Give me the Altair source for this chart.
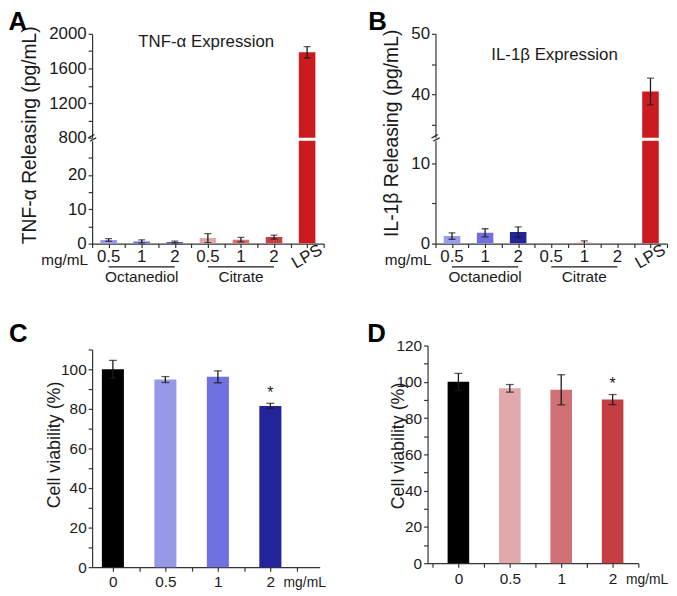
import altair as alt
import pandas as pd

FONT = "Liberation Sans"
INK = "#1a1a1a"
AXIS = "#333333"

# ---------------- Panels A and B: cytokine release ----------------
cat_keys = ["Oct 0.5", "Oct 1", "Oct 2", "Cit 0.5", "Cit 1", "Cit 2", "LPS"]
cat_labels = ["0.5", "1", "2", "0.5", "1", "2", "LPS"]
group_names = ["Octanediol", "Citrate"]
group_members = [[0, 1, 2], [3, 4, 5]]

tnf_mean = [1.05, 0.6, 0.4, 1.6, 1.15, 1.9, 1787]
tnf_err = [0.4, 0.5, 0.3, 1.3, 0.65, 0.6, 66]
il1b_mean = [0.94, 1.35, 1.43, 0.0, 0.1, 0.0, 40.45]
il1b_err = [0.4, 0.5, 0.65, 0.0, 0.25, 0.0, 2.2]

tnf_title = "TNF-α Expression"
il1b_title = "IL-1β Expression"
tnf_ytitle = "TNF-α Releasing (pg/mL)"
il1b_ytitle = "IL-1β Releasing (pg/mL)"
unit_label = "mg/mL"

# ---------------- Panels C and D: cell viability ----------------
dose_labels = ["0", "0.5", "1", "2"]
oct_via_mean = [100, 94.8, 96.2, 81.5]
oct_via_err = [4.5, 1.5, 3.0, 1.3]
cit_via_mean = [100, 96.4, 95.6, 90.2]
cit_via_err = [4.7, 2.1, 8.3, 2.8]
star_dose_index = [3]
oct_star_y = [88]
cit_star_y = [98.5]
via_ytitle = "Cell viability (%)"

# ---------------- styles ----------------
ab_colors = ["#9a9aee", "#6f6fe0", "#23239a", "#e2a9ac", "#d57377", "#c63f45", "#cc1b20"]
c_colors = ["#000000", "#9898e8", "#7070e0", "#23239a"]
d_colors = ["#000000", "#e2a9ac", "#d07176", "#c43f44"]

N = len(cat_keys)
cat_pos = [i + 0.5 for i in range(N)]
XAB = alt.Scale(domain=[0, N], nice=False, zero=False)
W_AB = 234


def cond(test, a, b):
    return alt.condition(test, alt.value(a), alt.value(b))


def letter(txt, dx, off):
    return alt.TitleParams(txt, anchor="start", frame="bounds", fontSize=26, fontWeight="bold",
                           font=FONT, color="#000000", dx=dx, offset=off, baseline="alphabetic")


def yaxis(values, step, size, title=None, tx=None, ty=None, tsize=19.5):
    kw = dict(values=values, format="d", tickCount=60,
              labelExpr=f"datum.value % {step} == 0 ? datum.label : ''",
              tickSize=4, labelFontSize=size, labelOverlap=False, labelPadding=2, grid=False)
    if title:
        kw.update(title=title, titleX=tx, titleY=ty, titleAngle=270, titleAlign="center",
                  titleBaseline="middle", titleFontSize=tsize, titleFontWeight="normal")
    else:
        kw["title"] = None
    return alt.Axis(**kw)


def ab_df(mean, err):
    df = pd.DataFrame({"key": cat_keys, "mean": mean, "err": err, "pos": cat_pos,
                       "col": ab_colors})
    df["xa"] = df["pos"] - 0.25
    df["xb"] = df["pos"] + 0.25
    df["lo"] = df["mean"] - df["err"]
    df["hi"] = df["mean"] + df["err"]
    return df


def note(text, x, y, **mk):
    return alt.Chart(pd.DataFrame({"t": [text]})).mark_text(font=FONT, color=INK, **mk).encode(
        x=alt.XDatum(x), y=alt.YDatum(y), text="t:N")


def ab_segment(df, ydom, height, yax, xax, extras=()):
    ys = alt.Scale(domain=ydom, nice=False, zero=False)
    base = alt.Chart(df)
    bars = base.mark_bar(clip=True).encode(
        x=alt.X("xa:Q", scale=XAB, axis=xax), x2="xb",
        y=alt.Y("mean:Q", scale=ys, axis=yax), y2=alt.Y2Datum(0),
        color=alt.Color("col:N", scale=None))
    eb = base.transform_filter("datum.err > 0")
    stem = eb.mark_rule(clip=True, color=INK, strokeWidth=1.3).encode(
        x="pos:Q", y="lo:Q", y2="hi")
    caps = [eb.mark_tick(clip=True, color=INK, orient="horizontal", size=7, thickness=1.3).encode(
        x="pos:Q", y=f"{f}:Q") for f in ("lo", "hi")]
    return alt.layer(bars, stem, *caps, *extras).properties(width=W_AB, height=height)


def ab_labels():
    ys = alt.Scale(domain=[0, 3.05], reverse=True)
    lab_df = pd.DataFrame({"lab": cat_labels, "pos": cat_pos})
    g_df = pd.DataFrame({"name": group_names,
                         "start": [cat_pos[m[0]] for m in group_members],
                         "end": [cat_pos[m[-1]] for m in group_members]})
    g_df["mid"] = (g_df["start"] + g_df["end"]) / 2
    labels = alt.Chart(lab_df).mark_text(font=FONT, fontSize=17, baseline="middle", color=INK).encode(
        x=alt.X("pos:Q", scale=XAB, axis=None), y=alt.YDatum(1, scale=ys, axis=None),
        text="lab:N", angle=cond("datum.lab == 'LPS'", 330, 0))
    unit = alt.Chart(pd.DataFrame({"t": [unit_label]})).mark_text(
        font=FONT, fontSize=15.5, align="right", baseline="middle", dx=-4, dy=3, color=INK).encode(
        x=alt.XDatum(0, axis=None), y=alt.YDatum(1, axis=None), text="t:N")
    lines = alt.Chart(g_df).mark_rule(color=INK, strokeWidth=1.2).encode(
        x=alt.X("start:Q", axis=None), x2="end", y=alt.YDatum(2, axis=None))
    names = alt.Chart(g_df).mark_text(font=FONT, fontSize=15.5, baseline="middle", color=INK).encode(
        x=alt.X("mid:Q", axis=None), y=alt.YDatum(3, axis=None), text="name:N")
    return alt.layer(labels, unit, lines, names).properties(width=W_AB, height=36)


def brk(y):
    return note("=", 0, y, fontSize=15, angle=330, baseline="middle")


x_ab_axis = alt.Axis(values=[i * 0.5 for i in range(2 * N + 1)], labels=False, title=None,
                     tickSize=4, tickCount=60, grid=False)

dfA = ab_df(tnf_mean, tnf_err)
A_up = ab_segment(dfA, [800, 2000], 105,
                  yaxis(list(range(800, 2001, 200)), 400, 17, tnf_ytitle, -63, 102), None,
                  extras=[note(tnf_title, 3.45, 1900, fontSize=17, baseline="middle"), brk(800)]
                  ).properties(title=letter("A", -11.5, -31))
A_low = ab_segment(dfA, [0, 30], 104, yaxis([0, 5, 10, 15, 20, 25], 10, 17), x_ab_axis)
A = alt.vconcat(A_up, A_low, ab_labels(), spacing=3, bounds="flush")

dfB = ab_df(il1b_mean, il1b_err)
B_up = ab_segment(dfB, [32.8, 50], 105,
                  yaxis([35, 40, 45, 50], 10, 17, il1b_ytitle, -44, 100), None,
                  extras=[note(il1b_title, 3.6, 46.5, fontSize=17, baseline="middle"), brk(32.8)]
                  ).properties(title=letter("B", -14, -31))
B_low = ab_segment(dfB, [0, 12.8], 104, yaxis([0, 5, 10], 10, 17), x_ab_axis)
B = alt.vconcat(B_up, B_low, ab_labels(), spacing=3, bounds="flush")


def via_panel(mean, err, colors, xdom, width, ymax, star_y, tx, ty, unit_x):
    n = len(dose_labels)
    df = pd.DataFrame({"dose": dose_labels, "idx": list(range(n)), "mean": mean, "err": err,
                       "col": colors})
    df["xa"] = df["idx"] - 0.21
    df["xb"] = df["idx"] + 0.21
    df["lo"] = df["mean"] - df["err"]
    df["hi"] = df["mean"] + df["err"]
    xs = alt.Scale(domain=xdom, nice=False, zero=False)
    ys = alt.Scale(domain=[0, ymax], nice=False)
    lab_arr = "[" + ",".join(f"'{d}'" for d in dose_labels) + "]"
    xax = alt.Axis(values=[v * 0.5 for v in range(-1, 8)], tickCount=60,
                   labelExpr=f"{lab_arr}[datum.value] || ''",
                   tickSize=4, labelFlush=False, labelOverlap=False, labelFontSize=15.5,
                   labelPadding=4, title=unit_label, titleX=unit_x, titleY=16, titleAlign="left",
                   titleBaseline="middle", titleFontSize=14, titleFontWeight="normal", grid=False)
    yax = yaxis(list(range(0, ymax + 1, 10)), 20, 15.5, via_ytitle, tx, ty, 18)
    base = alt.Chart(df)
    bars = base.mark_bar().encode(
        x=alt.X("xa:Q", scale=xs, axis=xax), x2="xb",
        y=alt.Y("mean:Q", scale=ys, axis=yax), y2=alt.Y2Datum(0),
        color=alt.Color("col:N", scale=None))
    stem = base.mark_rule(color=INK, strokeWidth=1.3).encode(x="idx:Q", y="lo:Q", y2="hi")
    caps = [base.mark_tick(color=INK, orient="horizontal", size=8, thickness=1.3).encode(
        x="idx:Q", y=f"{f}:Q") for f in ("lo", "hi")]
    stars = alt.Chart(pd.DataFrame({"idx": star_dose_index, "y": star_y})).mark_text(
        text="*", font=FONT, fontSize=16, color=INK, baseline="middle").encode(
        x="idx:Q", y="y:Q")
    return alt.layer(bars, stem, *caps, stars).properties(width=width, height=220)


C = via_panel(oct_via_mean, oct_via_err, c_colors, [-0.396, 3.94], 230, 110, oct_star_y,
              -38, 96, 193).properties(title=letter("C", -37, -25))
D = via_panel(cit_via_mean, cit_via_err, d_colors, [-0.6, 3.5], 213, 120, cit_star_y,
              -29, 101, 200).properties(title=letter("D", -23, -29))

chart = alt.concat(A, B, C, D, columns=2, align="none", bounds="full",
                   spacing=alt.RowColnumber(row=35, column=42)).properties(
    padding={"left": 0, "top": -2, "right": 0, "bottom": 0}
).configure_view(stroke=None).configure_axis(
    domainColor=AXIS, tickColor=AXIS, labelColor=INK, labelFont=FONT, titleFont=FONT,
    titleColor=INK, domainWidth=1.2, tickWidth=1.2)

chart.save("out.html", embed_options={"renderer": "svg", "actions": False})
